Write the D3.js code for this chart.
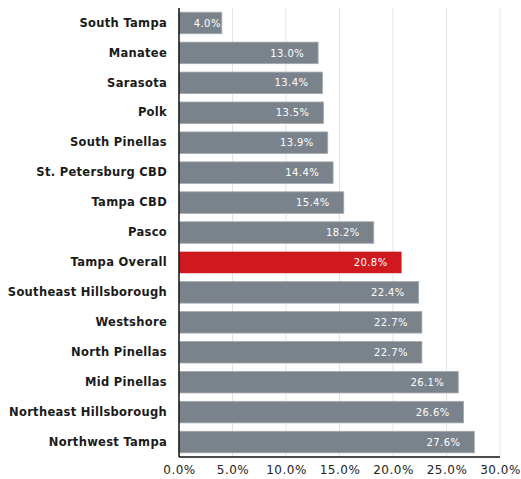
<!DOCTYPE html>
<html>
<head>
<meta charset="utf-8">
<title>Vacancy by submarket</title>
<style>
  body { margin: 0; background: #fff; }
  .cat text { font-family: "DejaVu Sans", sans-serif; font-weight: bold; font-size: 11.5px; letter-spacing: 0.3px; fill: #1a1a1a; }
  .val { font-family: "DejaVu Sans", sans-serif; font-size: 10px; letter-spacing: 0.4px; fill: #fff; }
  .xax text { font-family: "DejaVu Sans", sans-serif; font-size: 12px; letter-spacing: 0.5px; fill: #222; }
  .grid line { stroke: #e3e3e3; }
</style>
<script src="https://d3js.org/d3.v7.min.js"></script>
</head>
<body>
<script>
  // submarkets, top to bottom
  var markets = ["South Tampa", "Manatee", "Sarasota", "Polk", "South Pinellas",
    "St. Petersburg CBD", "Tampa CBD", "Pasco", "Tampa Overall", "Southeast Hillsborough",
    "Westshore", "North Pinellas", "Mid Pinellas", "Northeast Hillsborough", "Northwest Tampa"];
  var rates = [4.0, 13.0, 13.4, 13.5, 13.9, 14.4, 15.4, 18.2, 20.8, 22.4, 22.7, 22.7, 26.1, 26.6, 27.6];
  var highlight = "Tampa Overall";
  var ticks = [0, 5, 10, 15, 20, 25, 30];

  var W = 521, H = 479;
  var mLeft = 179, mRight = 500, mTop = 8, mBottom = 457;

  var svg = d3.select("body").append("svg").attr("width", W).attr("height", H);

  var x = d3.scaleLinear().domain([0, 30]).range([mLeft, mRight]);
  var y = d3.scaleBand().domain(markets).range([mTop, mBottom]).paddingInner(0.28).paddingOuter(0.14);

  // gridlines
  svg.append("g").attr("class", "grid")
    .selectAll("line").data(ticks.slice(1)).join("line")
    .attr("x1", function(d) { return x(d); }).attr("x2", function(d) { return x(d); })
    .attr("y1", mTop).attr("y2", mBottom);

  var data = markets.map(function(m, i) { return {name: m, v: rates[i]}; });

  svg.append("g").selectAll("rect").data(data).join("rect")
    .attr("x", x(0))
    .attr("y", function(d) { return y(d.name); })
    .attr("width", function(d) { return x(d.v) - x(0); })
    .attr("height", y.bandwidth())
    .attr("fill", function(d) { return d.name == highlight ? "#d0191f" : "#7a838b"; })
    .attr("stroke", function(d) { return d.name == highlight ? "none" : "#a3aab0"; })
    .attr("stroke-width", 0.8);

  // value labels
  svg.append("g").selectAll("text").data(data).join("text")
    .attr("class", "val")
    .attr("x", function(d) { return x(d.v) - x(0) > 60 ? x(d.v) - 14 : x(d.v) - 1; })
    .attr("y", function(d) { return y(d.name) + y.bandwidth() / 2; })
    .attr("dy", "0.36em")
    .attr("text-anchor", "end")
    .text(function(d) { return d.v.toFixed(1) + "%"; });

  // category axis
  var yAxis = svg.append("g").attr("class", "cat")
    .attr("transform", "translate(" + mLeft + ",0)")
    .call(d3.axisLeft(y).tickSize(0).tickPadding(12));
  yAxis.select(".domain").attr("stroke", "#111").attr("stroke-width", 1.5)
    .attr("d", "M0," + mTop + "V" + mBottom);

  // value axis
  var xAxis = svg.append("g").attr("class", "xax")
    .attr("transform", "translate(0," + mBottom + ")")
    .call(d3.axisBottom(x).tickValues(ticks).tickSize(0).tickPadding(8)
      .tickFormat(function(d) { return d.toFixed(1) + "%"; }));
  xAxis.select(".domain").attr("stroke", "#111").attr("stroke-width", 1.5)
    .attr("d", "M" + mLeft + ",0H" + mRight);
</script>
</body>
</html>
